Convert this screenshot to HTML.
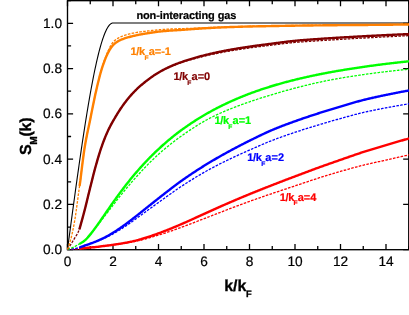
<!DOCTYPE html>
<html><head><meta charset="utf-8"><style>
html,body{margin:0;padding:0;background:#fff;}
svg{display:block;will-change:transform;opacity:0.999}
text{text-rendering:geometricPrecision}
text{font-family:"Liberation Sans",sans-serif;}
.tl{font-size:13.7px;fill:#000;stroke:#000;stroke-width:0.2px}
.lb{font-size:11px;font-weight:bold;letter-spacing:0px}
.sub{font-size:6.7px}
.ax{font-size:16px;font-weight:bold;fill:#000;stroke:#000;stroke-width:0.3px}
.asub{font-size:9.3px}
</style></head><body>
<svg width="409" height="315" viewBox="0 0 409 315">
<rect width="409" height="315" fill="#fff"/>
<rect x="67.5" y="0.66" width="341.25" height="249.04" fill="none" stroke="#000" stroke-width="1.35"/>
<path d="M67.50 249.7 v-5.6 M67.50 0.66 v5.6 M90.25 249.7 v-3.6 M90.25 0.66 v3.6 M113.00 249.7 v-5.6 M113.00 0.66 v5.6 M135.75 249.7 v-3.6 M135.75 0.66 v3.6 M158.50 249.7 v-5.6 M158.50 0.66 v5.6 M181.25 249.7 v-3.6 M181.25 0.66 v3.6 M204.00 249.7 v-5.6 M204.00 0.66 v5.6 M226.75 249.7 v-3.6 M226.75 0.66 v3.6 M249.50 249.7 v-5.6 M249.50 0.66 v5.6 M272.25 249.7 v-3.6 M272.25 0.66 v3.6 M295.00 249.7 v-5.6 M295.00 0.66 v5.6 M317.75 249.7 v-3.6 M317.75 0.66 v3.6 M340.50 249.7 v-5.6 M340.50 0.66 v5.6 M363.25 249.7 v-3.6 M363.25 0.66 v3.6 M386.00 249.7 v-5.6 M386.00 0.66 v5.6 M408.75 249.7 v-3.6 M408.75 0.66 v3.6 M67.5 249.70 h5.6 M408.75 249.70 h-5.6 M67.5 227.06 h3.6 M67.5 204.42 h5.6 M408.75 204.42 h-5.6 M67.5 181.78 h3.6 M67.5 159.14 h5.6 M408.75 159.14 h-5.6 M67.5 136.50 h3.6 M67.5 113.86 h5.6 M408.75 113.86 h-5.6 M67.5 91.22 h3.6 M67.5 68.58 h5.6 M408.75 68.58 h-5.6 M67.5 45.94 h3.6 M67.5 23.30 h5.6 M408.75 23.30 h-5.6 M67.5 0.66 h3.6" stroke="#000" stroke-width="1.3" fill="none"/>
<g stroke-linejoin="round">
<path d="M67.50 249.40 L68.08 245.10 L68.65 240.80 L69.23 236.51 L69.80 232.22 L70.38 227.94 L70.96 223.66 L71.53 219.39 L72.11 215.13 L72.68 210.88 L73.26 206.64 L73.84 202.42 L74.41 198.21 L74.99 194.02 L75.56 189.85 L76.14 185.69 L76.72 181.56 L77.29 177.45 L77.87 173.36 L78.44 169.30 L79.02 165.26 L79.59 161.25 L80.17 157.27 L80.75 153.32 L81.32 149.40 L81.90 145.52 L82.47 141.67 L83.05 137.85 L83.63 134.08 L84.20 130.34 L84.78 126.64 L85.35 122.98 L85.93 119.36 L86.51 115.79 L87.08 112.27 L87.66 108.79 L88.23 105.36 L88.81 101.98 L89.39 98.65 L89.96 95.37 L90.54 92.14 L91.11 88.98 L91.69 85.86 L92.27 82.81 L92.84 79.81 L93.42 76.88 L93.99 74.01 L94.57 71.20 L95.15 68.45 L95.72 65.77 L96.30 63.16 L96.87 60.62 L97.45 58.15 L98.03 55.75 L98.60 53.42 L99.18 51.17 L99.75 48.99 L100.33 46.89 L100.91 44.87 L101.48 42.93 L102.06 41.07 L102.63 39.29 L103.21 37.60 L103.78 35.99 L104.36 34.47 L104.94 33.04 L105.51 31.69 L106.09 30.44 L106.66 29.28 L107.24 28.21 L107.82 27.24 L108.39 26.36 L108.97 25.59 L109.54 24.91 L110.12 24.33 L110.70 23.86 L111.27 23.48 L111.85 23.22 L112.42 23.05 L113.00 23.00 L411.02 23.00" stroke="#000" stroke-width="1.1" fill="none"/>
<path d="M67.50 249.40 L68.12 249.39 L68.75 249.37 L69.37 249.35 L69.99 249.33 L70.61 249.30 L71.24 249.28 L71.86 249.24 L72.48 249.21 L73.10 249.17 L73.73 249.13 L74.35 249.09 L74.97 249.04 L75.59 249.00 L76.22 248.95 L76.84 248.90 L77.46 248.85 L78.08 248.80 L78.71 248.75 L79.33 248.70 L80.16 248.60 L80.99 248.49 L81.82 248.40 L82.66 248.30 L83.49 248.20 L84.32 248.11 L85.15 248.02 L85.98 247.94 L86.81 247.85 L87.64 247.77 L88.47 247.69 L89.31 247.61 L90.14 247.53 L90.97 247.46 L91.80 247.39 L92.63 247.32 L93.46 247.25 L94.29 247.18 L95.12 247.10 L95.96 247.02 L96.79 246.93 L97.62 246.82 L98.45 246.71 L99.28 246.59 L100.11 246.48 L100.94 246.36 L101.78 246.26 L102.61 246.16 L103.44 246.06 L104.27 245.96 L105.10 245.87 L105.93 245.77 L106.76 245.67 L107.59 245.56 L108.43 245.45 L109.26 245.34 L110.09 245.22 L110.92 245.11 L111.75 244.99 L112.58 244.87 L113.41 244.74 L114.25 244.62 L115.08 244.51 L115.91 244.39 L116.74 244.28 L117.57 244.16 L118.40 244.05 L119.23 243.94 L120.06 243.82 L120.90 243.71 L121.73 243.60 L122.56 243.48 L123.39 243.37 L124.22 243.25 L125.05 243.13 L125.88 243.01 L126.72 242.88 L127.55 242.76 L128.38 242.63 L129.21 242.50 L130.04 242.36 L130.87 242.23 L131.70 242.08 L132.53 241.94 L133.37 241.78 L134.20 241.63 L135.03 241.46 L135.86 241.29 L136.69 241.12 L137.52 240.93 L138.35 240.74 L139.18 240.54 L140.02 240.34 L140.85 240.13 L141.68 239.91 L142.51 239.70 L143.34 239.48 L144.17 239.25 L145.00 239.03 L145.84 238.81 L146.67 238.58 L147.50 238.36 L148.33 238.14 L149.16 237.91 L149.99 237.68 L150.82 237.44 L151.65 237.21 L152.49 236.97 L153.32 236.72 L154.15 236.48 L154.98 236.23 L155.81 235.98 L156.64 235.73 L157.47 235.48 L158.31 235.22 L159.14 234.96 L159.97 234.70 L160.80 234.44 L161.63 234.17 L162.46 233.90 L163.29 233.63 L164.12 233.35 L164.96 233.08 L165.79 232.80 L166.62 232.52 L167.45 232.24 L168.28 231.96 L169.11 231.68 L169.94 231.39 L170.77 231.11 L171.61 230.82 L172.44 230.53 L173.27 230.24 L174.10 229.95 L174.93 229.66 L175.76 229.36 L176.59 229.06 L177.43 228.76 L178.26 228.46 L179.09 228.16 L179.92 227.86 L180.75 227.55 L181.58 227.25 L182.41 226.94 L183.24 226.63 L184.08 226.32 L184.91 226.01 L185.74 225.70 L186.57 225.39 L187.40 225.08 L188.23 224.76 L189.06 224.44 L189.89 224.13 L190.73 223.81 L191.56 223.49 L192.39 223.17 L193.22 222.86 L194.05 222.54 L194.88 222.22 L195.71 221.90 L196.55 221.57 L197.38 221.25 L198.21 220.93 L199.04 220.61 L199.87 220.29 L200.70 219.97 L201.53 219.65 L202.36 219.33 L203.20 219.01 L204.03 218.69 L204.86 218.37 L205.69 218.05 L206.52 217.73 L207.35 217.41 L208.18 217.08 L209.02 216.76 L209.85 216.44 L210.68 216.11 L211.51 215.79 L212.34 215.47 L213.17 215.14 L214.00 214.82 L214.83 214.50 L215.67 214.17 L216.50 213.85 L217.33 213.52 L218.16 213.20 L218.99 212.88 L219.82 212.56 L220.65 212.23 L221.49 211.91 L222.32 211.59 L223.15 211.27 L223.98 210.95 L224.81 210.63 L225.64 210.32 L226.47 210.00 L227.30 209.68 L228.14 209.37 L228.97 209.05 L229.80 208.73 L230.63 208.42 L231.46 208.10 L232.29 207.79 L233.12 207.47 L233.95 207.16 L234.79 206.85 L235.62 206.53 L236.45 206.22 L237.28 205.91 L238.11 205.60 L238.94 205.29 L239.77 204.98 L240.61 204.67 L241.44 204.36 L242.27 204.05 L243.10 203.74 L243.93 203.43 L244.76 203.13 L245.59 202.82 L246.42 202.52 L247.26 202.22 L248.09 201.91 L248.92 201.61 L249.75 201.31 L250.58 201.01 L251.41 200.72 L252.24 200.42 L253.07 200.12 L253.91 199.83 L254.74 199.53 L255.57 199.24 L256.40 198.95 L257.23 198.66 L258.06 198.37 L258.89 198.07 L259.73 197.78 L260.56 197.50 L261.39 197.21 L262.22 196.92 L263.05 196.63 L263.88 196.34 L264.71 196.06 L265.54 195.77 L266.38 195.49 L267.21 195.20 L268.04 194.92 L268.87 194.63 L269.70 194.35 L270.53 194.06 L271.36 193.78 L272.20 193.50 L273.03 193.22 L273.86 192.93 L274.69 192.65 L275.52 192.37 L276.35 192.09 L277.18 191.81 L278.01 191.53 L278.85 191.26 L279.68 190.98 L280.51 190.70 L281.34 190.43 L282.17 190.15 L283.00 189.87 L283.83 189.60 L284.66 189.32 L285.50 189.05 L286.33 188.77 L287.16 188.50 L287.99 188.22 L288.82 187.95 L289.65 187.67 L290.48 187.40 L291.32 187.12 L292.15 186.84 L292.98 186.57 L293.81 186.29 L294.64 186.01 L295.47 185.74 L296.30 185.46 L297.13 185.18 L297.97 184.90 L298.80 184.62 L299.63 184.34 L300.46 184.06 L301.29 183.78 L302.12 183.50 L302.95 183.21 L303.79 182.93 L304.62 182.65 L305.45 182.37 L306.28 182.09 L307.11 181.81 L307.94 181.53 L308.77 181.25 L309.60 180.98 L310.44 180.70 L311.27 180.42 L312.10 180.15 L312.93 179.87 L313.76 179.60 L314.59 179.33 L315.42 179.06 L316.25 178.79 L317.09 178.52 L317.92 178.26 L318.75 177.99 L319.58 177.73 L320.41 177.47 L321.24 177.21 L322.07 176.95 L322.91 176.69 L323.74 176.43 L324.57 176.17 L325.40 175.91 L326.23 175.66 L327.06 175.40 L327.89 175.15 L328.72 174.90 L329.56 174.65 L330.39 174.40 L331.22 174.14 L332.05 173.90 L332.88 173.65 L333.71 173.40 L334.54 173.15 L335.38 172.91 L336.21 172.66 L337.04 172.42 L337.87 172.17 L338.70 171.93 L339.53 171.69 L340.36 171.44 L341.19 171.20 L342.03 170.96 L342.86 170.72 L343.69 170.48 L344.52 170.25 L345.35 170.01 L346.18 169.77 L347.01 169.53 L347.84 169.30 L348.68 169.06 L349.51 168.83 L350.34 168.60 L351.17 168.37 L352.00 168.14 L352.83 167.91 L353.66 167.68 L354.50 167.46 L355.33 167.23 L356.16 167.01 L356.99 166.79 L357.82 166.57 L358.65 166.35 L359.48 166.13 L360.31 165.92 L361.15 165.71 L361.98 165.50 L362.81 165.29 L363.64 165.08 L364.47 164.88 L365.30 164.68 L366.13 164.48 L366.97 164.29 L367.80 164.09 L368.63 163.90 L369.46 163.71 L370.29 163.53 L371.12 163.34 L371.95 163.16 L372.78 162.97 L373.62 162.79 L374.45 162.61 L375.28 162.43 L376.11 162.25 L376.94 162.07 L377.77 161.89 L378.60 161.71 L379.43 161.53 L380.27 161.35 L381.10 161.17 L381.93 160.99 L382.76 160.81 L383.59 160.62 L384.42 160.44 L385.25 160.25 L386.09 160.07 L386.92 159.88 L387.75 159.69 L388.58 159.50 L389.41 159.31 L390.24 159.12 L391.07 158.93 L391.90 158.75 L392.74 158.56 L393.57 158.37 L394.40 158.18 L395.23 157.99 L396.06 157.80 L396.89 157.61 L397.72 157.42 L398.56 157.23 L399.39 157.04 L400.22 156.85 L401.05 156.66 L401.88 156.48 L402.71 156.29 L403.54 156.10 L404.37 155.91 L405.21 155.72 L406.04 155.52 L406.87 155.33 L407.70 155.14 L408.53 154.95 L409.36 154.76 L410.19 154.57 L411.02 154.38" stroke="#ff0000" stroke-width="1.3" stroke-dasharray="2.6 1.3" fill="none"/>
<path d="M79.33 248.70 L80.16 248.60 L80.99 248.49 L81.82 248.40 L82.66 248.30 L83.49 248.20 L84.32 248.11 L85.15 248.02 L85.98 247.94 L86.81 247.85 L87.64 247.77 L88.47 247.69 L89.31 247.61 L90.14 247.53 L90.97 247.46 L91.80 247.39 L92.63 247.32 L93.46 247.25 L94.29 247.18 L95.12 247.10 L95.96 247.02 L96.79 246.93 L97.62 246.82 L98.45 246.71 L99.28 246.59 L100.11 246.48 L100.94 246.36 L101.78 246.26 L102.61 246.16 L103.44 246.06 L104.27 245.96 L105.10 245.87 L105.93 245.77 L106.76 245.67 L107.59 245.56 L108.43 245.45 L109.26 245.34 L110.09 245.22 L110.92 245.11 L111.75 244.99 L112.58 244.87 L113.41 244.74 L114.25 244.62 L115.08 244.50 L115.91 244.37 L116.74 244.25 L117.57 244.12 L118.40 243.99 L119.23 243.86 L120.06 243.73 L120.90 243.59 L121.73 243.45 L122.56 243.31 L123.39 243.17 L124.22 243.02 L125.05 242.87 L125.88 242.72 L126.72 242.56 L127.55 242.40 L128.38 242.24 L129.21 242.08 L130.04 241.91 L130.87 241.74 L131.70 241.56 L132.53 241.38 L133.37 241.20 L134.20 241.01 L135.03 240.81 L135.86 240.61 L136.69 240.40 L137.52 240.18 L138.35 239.96 L139.18 239.72 L140.02 239.48 L140.85 239.24 L141.68 238.98 L142.51 238.73 L143.34 238.47 L144.17 238.21 L145.00 237.94 L145.84 237.68 L146.67 237.41 L147.50 237.15 L148.33 236.88 L149.16 236.61 L149.99 236.33 L150.82 236.05 L151.65 235.77 L152.49 235.48 L153.32 235.20 L154.15 234.91 L154.98 234.61 L155.81 234.32 L156.64 234.02 L157.47 233.72 L158.31 233.42 L159.14 233.12 L159.97 232.81 L160.80 232.50 L161.63 232.19 L162.46 231.87 L163.29 231.55 L164.12 231.23 L164.96 230.91 L165.79 230.58 L166.62 230.25 L167.45 229.92 L168.28 229.59 L169.11 229.26 L169.94 228.93 L170.77 228.59 L171.61 228.26 L172.44 227.92 L173.27 227.58 L174.10 227.23 L174.93 226.89 L175.76 226.54 L176.59 226.19 L177.43 225.84 L178.26 225.49 L179.09 225.13 L179.92 224.77 L180.75 224.42 L181.58 224.06 L182.41 223.70 L183.24 223.33 L184.08 222.97 L184.91 222.60 L185.74 222.23 L186.57 221.86 L187.40 221.49 L188.23 221.11 L189.06 220.74 L189.89 220.36 L190.73 219.99 L191.56 219.61 L192.39 219.23 L193.22 218.85 L194.05 218.47 L194.88 218.09 L195.71 217.71 L196.55 217.33 L197.38 216.95 L198.21 216.57 L199.04 216.19 L199.87 215.81 L200.70 215.44 L201.53 215.06 L202.36 214.68 L203.20 214.31 L204.03 213.93 L204.86 213.56 L205.69 213.19 L206.52 212.81 L207.35 212.44 L208.18 212.06 L209.02 211.69 L209.85 211.31 L210.68 210.94 L211.51 210.56 L212.34 210.19 L213.17 209.81 L214.00 209.44 L214.83 209.07 L215.67 208.69 L216.50 208.32 L217.33 207.95 L218.16 207.57 L218.99 207.20 L219.82 206.83 L220.65 206.46 L221.49 206.09 L222.32 205.72 L223.15 205.36 L223.98 204.99 L224.81 204.63 L225.64 204.26 L226.47 203.90 L227.30 203.54 L228.14 203.18 L228.97 202.82 L229.80 202.46 L230.63 202.10 L231.46 201.74 L232.29 201.39 L233.12 201.03 L233.95 200.67 L234.79 200.32 L235.62 199.96 L236.45 199.61 L237.28 199.26 L238.11 198.91 L238.94 198.55 L239.77 198.20 L240.61 197.85 L241.44 197.50 L242.27 197.16 L243.10 196.81 L243.93 196.46 L244.76 196.12 L245.59 195.77 L246.42 195.43 L247.26 195.08 L248.09 194.74 L248.92 194.40 L249.75 194.06 L250.58 193.72 L251.41 193.38 L252.24 193.04 L253.07 192.70 L253.91 192.36 L254.74 192.03 L255.57 191.69 L256.40 191.36 L257.23 191.03 L258.06 190.69 L258.89 190.36 L259.73 190.03 L260.56 189.70 L261.39 189.37 L262.22 189.04 L263.05 188.71 L263.88 188.38 L264.71 188.06 L265.54 187.73 L266.38 187.40 L267.21 187.08 L268.04 186.75 L268.87 186.42 L269.70 186.10 L270.53 185.77 L271.36 185.45 L272.20 185.12 L273.03 184.80 L273.86 184.48 L274.69 184.15 L275.52 183.83 L276.35 183.51 L277.18 183.19 L278.01 182.86 L278.85 182.54 L279.68 182.22 L280.51 181.90 L281.34 181.58 L282.17 181.27 L283.00 180.95 L283.83 180.63 L284.66 180.31 L285.50 179.99 L286.33 179.68 L287.16 179.36 L287.99 179.04 L288.82 178.73 L289.65 178.41 L290.48 178.10 L291.32 177.78 L292.15 177.47 L292.98 177.15 L293.81 176.84 L294.64 176.52 L295.47 176.21 L296.30 175.89 L297.13 175.58 L297.97 175.26 L298.80 174.95 L299.63 174.64 L300.46 174.32 L301.29 174.01 L302.12 173.70 L302.95 173.38 L303.79 173.07 L304.62 172.76 L305.45 172.45 L306.28 172.13 L307.11 171.82 L307.94 171.51 L308.77 171.20 L309.60 170.89 L310.44 170.58 L311.27 170.27 L312.10 169.97 L312.93 169.66 L313.76 169.35 L314.59 169.05 L315.42 168.74 L316.25 168.44 L317.09 168.14 L317.92 167.84 L318.75 167.53 L319.58 167.23 L320.41 166.93 L321.24 166.64 L322.07 166.34 L322.91 166.04 L323.74 165.74 L324.57 165.45 L325.40 165.15 L326.23 164.86 L327.06 164.56 L327.89 164.27 L328.72 163.98 L329.56 163.68 L330.39 163.39 L331.22 163.10 L332.05 162.81 L332.88 162.52 L333.71 162.23 L334.54 161.94 L335.38 161.65 L336.21 161.35 L337.04 161.07 L337.87 160.78 L338.70 160.49 L339.53 160.20 L340.36 159.91 L341.19 159.62 L342.03 159.33 L342.86 159.04 L343.69 158.74 L344.52 158.45 L345.35 158.16 L346.18 157.87 L347.01 157.58 L347.84 157.29 L348.68 157.00 L349.51 156.70 L350.34 156.41 L351.17 156.12 L352.00 155.84 L352.83 155.55 L353.66 155.26 L354.50 154.97 L355.33 154.69 L356.16 154.40 L356.99 154.12 L357.82 153.84 L358.65 153.56 L359.48 153.28 L360.31 153.01 L361.15 152.73 L361.98 152.46 L362.81 152.19 L363.64 151.92 L364.47 151.66 L365.30 151.39 L366.13 151.13 L366.97 150.87 L367.80 150.61 L368.63 150.35 L369.46 150.09 L370.29 149.84 L371.12 149.58 L371.95 149.33 L372.78 149.08 L373.62 148.83 L374.45 148.58 L375.28 148.33 L376.11 148.08 L376.94 147.83 L377.77 147.58 L378.60 147.34 L379.43 147.09 L380.27 146.84 L381.10 146.60 L381.93 146.35 L382.76 146.10 L383.59 145.86 L384.42 145.61 L385.25 145.36 L386.09 145.12 L386.92 144.87 L387.75 144.62 L388.58 144.38 L389.41 144.13 L390.24 143.89 L391.07 143.64 L391.90 143.39 L392.74 143.15 L393.57 142.91 L394.40 142.66 L395.23 142.42 L396.06 142.17 L396.89 141.93 L397.72 141.69 L398.56 141.45 L399.39 141.20 L400.22 140.96 L401.05 140.72 L401.88 140.48 L402.71 140.24 L403.54 140.00 L404.37 139.76 L405.21 139.52 L406.04 139.28 L406.87 139.04 L407.70 138.80 L408.53 138.56 L409.36 138.33 L410.19 138.09 L411.02 137.85" stroke="#ff0000" stroke-width="2.4" fill="none"/>
<path d="M67.50 249.40 L68.12 249.39 L68.75 249.37 L69.37 249.34 L69.99 249.29 L70.61 249.23 L71.24 249.15 L71.86 249.07 L72.48 248.98 L73.10 248.88 L73.73 248.77 L74.35 248.66 L74.97 248.53 L75.59 248.41 L76.22 248.27 L76.84 248.14 L77.46 248.00 L78.08 247.86 L78.71 247.71 L79.33 247.57 L80.16 247.26 L80.99 246.95 L81.82 246.65 L82.66 246.35 L83.49 246.05 L84.32 245.75 L85.15 245.46 L85.98 245.17 L86.81 244.89 L87.64 244.61 L88.47 244.32 L89.31 244.03 L90.14 243.74 L90.97 243.43 L91.80 243.14 L92.63 242.84 L93.46 242.54 L94.29 242.24 L95.12 241.94 L95.96 241.63 L96.79 241.32 L97.62 241.01 L98.45 240.69 L99.28 240.36 L100.11 240.03 L100.94 239.70 L101.78 239.36 L102.61 239.01 L103.44 238.65 L104.27 238.29 L105.10 237.92 L105.93 237.54 L106.76 237.15 L107.59 236.76 L108.43 236.35 L109.26 235.94 L110.09 235.51 L110.92 235.08 L111.75 234.63 L112.58 234.17 L113.41 233.70 L114.25 233.22 L115.08 232.74 L115.91 232.25 L116.74 231.75 L117.57 231.24 L118.40 230.73 L119.23 230.21 L120.06 229.69 L120.90 229.16 L121.73 228.63 L122.56 228.10 L123.39 227.56 L124.22 227.01 L125.05 226.47 L125.88 225.91 L126.72 225.35 L127.55 224.78 L128.38 224.20 L129.21 223.62 L130.04 223.03 L130.87 222.44 L131.70 221.85 L132.53 221.25 L133.37 220.66 L134.20 220.06 L135.03 219.47 L135.86 218.87 L136.69 218.27 L137.52 217.68 L138.35 217.07 L139.18 216.47 L140.02 215.86 L140.85 215.26 L141.68 214.65 L142.51 214.04 L143.34 213.43 L144.17 212.83 L145.00 212.22 L145.84 211.62 L146.67 211.01 L147.50 210.41 L148.33 209.81 L149.16 209.21 L149.99 208.61 L150.82 208.01 L151.65 207.40 L152.49 206.80 L153.32 206.20 L154.15 205.60 L154.98 205.00 L155.81 204.40 L156.64 203.80 L157.47 203.20 L158.31 202.61 L159.14 202.01 L159.97 201.41 L160.80 200.81 L161.63 200.21 L162.46 199.61 L163.29 199.01 L164.12 198.42 L164.96 197.82 L165.79 197.22 L166.62 196.62 L167.45 196.03 L168.28 195.44 L169.11 194.85 L169.94 194.26 L170.77 193.67 L171.61 193.09 L172.44 192.50 L173.27 191.91 L174.10 191.32 L174.93 190.74 L175.76 190.16 L176.59 189.58 L177.43 189.01 L178.26 188.44 L179.09 187.87 L179.92 187.31 L180.75 186.76 L181.58 186.21 L182.41 185.67 L183.24 185.13 L184.08 184.59 L184.91 184.06 L185.74 183.52 L186.57 182.99 L187.40 182.47 L188.23 181.94 L189.06 181.42 L189.89 180.90 L190.73 180.38 L191.56 179.86 L192.39 179.35 L193.22 178.83 L194.05 178.32 L194.88 177.82 L195.71 177.31 L196.55 176.81 L197.38 176.31 L198.21 175.81 L199.04 175.31 L199.87 174.82 L200.70 174.33 L201.53 173.85 L202.36 173.36 L203.20 172.88 L204.03 172.41 L204.86 171.94 L205.69 171.47 L206.52 171.00 L207.35 170.54 L208.18 170.08 L209.02 169.63 L209.85 169.17 L210.68 168.72 L211.51 168.28 L212.34 167.83 L213.17 167.39 L214.00 166.95 L214.83 166.52 L215.67 166.08 L216.50 165.65 L217.33 165.23 L218.16 164.80 L218.99 164.38 L219.82 163.95 L220.65 163.54 L221.49 163.12 L222.32 162.70 L223.15 162.29 L223.98 161.88 L224.81 161.47 L225.64 161.06 L226.47 160.66 L227.30 160.25 L228.14 159.85 L228.97 159.45 L229.80 159.05 L230.63 158.66 L231.46 158.26 L232.29 157.87 L233.12 157.48 L233.95 157.09 L234.79 156.70 L235.62 156.31 L236.45 155.93 L237.28 155.54 L238.11 155.16 L238.94 154.78 L239.77 154.40 L240.61 154.03 L241.44 153.65 L242.27 153.28 L243.10 152.90 L243.93 152.53 L244.76 152.16 L245.59 151.79 L246.42 151.42 L247.26 151.05 L248.09 150.69 L248.92 150.32 L249.75 149.96 L250.58 149.59 L251.41 149.23 L252.24 148.86 L253.07 148.50 L253.91 148.13 L254.74 147.77 L255.57 147.40 L256.40 147.04 L257.23 146.67 L258.06 146.31 L258.89 145.95 L259.73 145.59 L260.56 145.23 L261.39 144.87 L262.22 144.51 L263.05 144.16 L263.88 143.81 L264.71 143.46 L265.54 143.11 L266.38 142.76 L267.21 142.42 L268.04 142.07 L268.87 141.74 L269.70 141.40 L270.53 141.07 L271.36 140.74 L272.20 140.41 L273.03 140.09 L273.86 139.77 L274.69 139.45 L275.52 139.13 L276.35 138.82 L277.18 138.51 L278.01 138.21 L278.85 137.90 L279.68 137.60 L280.51 137.30 L281.34 137.00 L282.17 136.71 L283.00 136.41 L283.83 136.12 L284.66 135.83 L285.50 135.54 L286.33 135.25 L287.16 134.96 L287.99 134.68 L288.82 134.40 L289.65 134.11 L290.48 133.83 L291.32 133.55 L292.15 133.27 L292.98 132.99 L293.81 132.71 L294.64 132.43 L295.47 132.15 L296.30 131.87 L297.13 131.60 L297.97 131.32 L298.80 131.05 L299.63 130.78 L300.46 130.51 L301.29 130.24 L302.12 129.97 L302.95 129.70 L303.79 129.43 L304.62 129.17 L305.45 128.91 L306.28 128.64 L307.11 128.38 L307.94 128.12 L308.77 127.86 L309.60 127.60 L310.44 127.34 L311.27 127.08 L312.10 126.83 L312.93 126.57 L313.76 126.32 L314.59 126.06 L315.42 125.81 L316.25 125.56 L317.09 125.30 L317.92 125.05 L318.75 124.80 L319.58 124.55 L320.41 124.30 L321.24 124.05 L322.07 123.81 L322.91 123.56 L323.74 123.31 L324.57 123.07 L325.40 122.83 L326.23 122.58 L327.06 122.34 L327.89 122.10 L328.72 121.86 L329.56 121.62 L330.39 121.38 L331.22 121.14 L332.05 120.91 L332.88 120.67 L333.71 120.43 L334.54 120.20 L335.38 119.97 L336.21 119.73 L337.04 119.50 L337.87 119.27 L338.70 119.04 L339.53 118.81 L340.36 118.58 L341.19 118.35 L342.03 118.12 L342.86 117.89 L343.69 117.66 L344.52 117.43 L345.35 117.20 L346.18 116.97 L347.01 116.73 L347.84 116.50 L348.68 116.28 L349.51 116.05 L350.34 115.82 L351.17 115.59 L352.00 115.37 L352.83 115.14 L353.66 114.92 L354.50 114.70 L355.33 114.48 L356.16 114.26 L356.99 114.05 L357.82 113.83 L358.65 113.62 L359.48 113.42 L360.31 113.21 L361.15 113.01 L361.98 112.81 L362.81 112.61 L363.64 112.42 L364.47 112.23 L365.30 112.04 L366.13 111.85 L366.97 111.67 L367.80 111.49 L368.63 111.31 L369.46 111.13 L370.29 110.95 L371.12 110.77 L371.95 110.60 L372.78 110.43 L373.62 110.26 L374.45 110.09 L375.28 109.92 L376.11 109.75 L376.94 109.58 L377.77 109.42 L378.60 109.25 L379.43 109.09 L380.27 108.93 L381.10 108.77 L381.93 108.61 L382.76 108.45 L383.59 108.29 L384.42 108.13 L385.25 107.97 L386.09 107.82 L386.92 107.66 L387.75 107.51 L388.58 107.35 L389.41 107.20 L390.24 107.04 L391.07 106.89 L391.90 106.74 L392.74 106.59 L393.57 106.44 L394.40 106.29 L395.23 106.14 L396.06 105.99 L396.89 105.85 L397.72 105.70 L398.56 105.55 L399.39 105.41 L400.22 105.27 L401.05 105.12 L401.88 104.98 L402.71 104.84 L403.54 104.70 L404.37 104.56 L405.21 104.42 L406.04 104.29 L406.87 104.15 L407.70 104.02 L408.53 103.88 L409.36 103.75 L410.19 103.62 L411.02 103.49" stroke="#0000ff" stroke-width="1.3" stroke-dasharray="2.6 1.3" fill="none"/>
<path d="M79.33 247.57 L80.16 247.26 L80.99 246.95 L81.82 246.65 L82.66 246.35 L83.49 246.05 L84.32 245.75 L85.15 245.46 L85.98 245.17 L86.81 244.89 L87.64 244.61 L88.47 244.32 L89.31 244.03 L90.14 243.74 L90.97 243.43 L91.80 243.13 L92.63 242.82 L93.46 242.50 L94.29 242.18 L95.12 241.85 L95.96 241.51 L96.79 241.17 L97.62 240.82 L98.45 240.46 L99.28 240.09 L100.11 239.71 L100.94 239.33 L101.78 238.94 L102.61 238.54 L103.44 238.13 L104.27 237.71 L105.10 237.28 L105.93 236.85 L106.76 236.41 L107.59 235.96 L108.43 235.50 L109.26 235.03 L110.09 234.55 L110.92 234.06 L111.75 233.57 L112.58 233.06 L113.41 232.55 L114.25 232.02 L115.08 231.49 L115.91 230.95 L116.74 230.41 L117.57 229.86 L118.40 229.30 L119.23 228.73 L120.06 228.16 L120.90 227.59 L121.73 227.01 L122.56 226.42 L123.39 225.83 L124.22 225.24 L125.05 224.64 L125.88 224.04 L126.72 223.42 L127.55 222.80 L128.38 222.17 L129.21 221.54 L130.04 220.90 L130.87 220.26 L131.70 219.61 L132.53 218.97 L133.37 218.32 L134.20 217.67 L135.03 217.02 L135.86 216.37 L136.69 215.72 L137.52 215.07 L138.35 214.41 L139.18 213.75 L140.02 213.09 L140.85 212.43 L141.68 211.76 L142.51 211.09 L143.34 210.43 L144.17 209.76 L145.00 209.10 L145.84 208.43 L146.67 207.77 L147.50 207.11 L148.33 206.44 L149.16 205.78 L149.99 205.12 L150.82 204.46 L151.65 203.80 L152.49 203.13 L153.32 202.47 L154.15 201.81 L154.98 201.15 L155.81 200.49 L156.64 199.84 L157.47 199.18 L158.31 198.52 L159.14 197.87 L159.97 197.21 L160.80 196.56 L161.63 195.91 L162.46 195.25 L163.29 194.60 L164.12 193.95 L164.96 193.30 L165.79 192.65 L166.62 192.00 L167.45 191.36 L168.28 190.72 L169.11 190.08 L169.94 189.44 L170.77 188.81 L171.61 188.17 L172.44 187.54 L173.27 186.90 L174.10 186.27 L174.93 185.64 L175.76 185.01 L176.59 184.38 L177.43 183.76 L178.26 183.15 L179.09 182.54 L179.92 181.93 L180.75 181.34 L181.58 180.75 L182.41 180.16 L183.24 179.58 L184.08 178.99 L184.91 178.42 L185.74 177.84 L186.57 177.27 L187.40 176.70 L188.23 176.13 L189.06 175.56 L189.89 175.00 L190.73 174.44 L191.56 173.88 L192.39 173.33 L193.22 172.77 L194.05 172.23 L194.88 171.68 L195.71 171.13 L196.55 170.59 L197.38 170.05 L198.21 169.52 L199.04 168.99 L199.87 168.45 L200.70 167.93 L201.53 167.40 L202.36 166.88 L203.20 166.36 L204.03 165.84 L204.86 165.33 L205.69 164.82 L206.52 164.31 L207.35 163.80 L208.18 163.30 L209.02 162.79 L209.85 162.30 L210.68 161.80 L211.51 161.30 L212.34 160.81 L213.17 160.32 L214.00 159.84 L214.83 159.35 L215.67 158.87 L216.50 158.39 L217.33 157.91 L218.16 157.43 L218.99 156.96 L219.82 156.49 L220.65 156.01 L221.49 155.55 L222.32 155.08 L223.15 154.61 L223.98 154.15 L224.81 153.69 L225.64 153.23 L226.47 152.77 L227.30 152.31 L228.14 151.85 L228.97 151.40 L229.80 150.95 L230.63 150.50 L231.46 150.05 L232.29 149.60 L233.12 149.16 L233.95 148.71 L234.79 148.27 L235.62 147.83 L236.45 147.39 L237.28 146.96 L238.11 146.52 L238.94 146.09 L239.77 145.66 L240.61 145.23 L241.44 144.80 L242.27 144.37 L243.10 143.95 L243.93 143.53 L244.76 143.10 L245.59 142.68 L246.42 142.26 L247.26 141.85 L248.09 141.43 L248.92 141.02 L249.75 140.60 L250.58 140.19 L251.41 139.78 L252.24 139.37 L253.07 138.95 L253.91 138.54 L254.74 138.13 L255.57 137.72 L256.40 137.31 L257.23 136.91 L258.06 136.50 L258.89 136.10 L259.73 135.70 L260.56 135.30 L261.39 134.90 L262.22 134.50 L263.05 134.11 L263.88 133.72 L264.71 133.33 L265.54 132.95 L266.38 132.56 L267.21 132.19 L268.04 131.81 L268.87 131.44 L269.70 131.07 L270.53 130.71 L271.36 130.35 L272.20 130.00 L273.03 129.65 L273.86 129.30 L274.69 128.96 L275.52 128.62 L276.35 128.28 L277.18 127.94 L278.01 127.61 L278.85 127.28 L279.68 126.95 L280.51 126.63 L281.34 126.31 L282.17 125.99 L283.00 125.67 L283.83 125.36 L284.66 125.04 L285.50 124.73 L286.33 124.42 L287.16 124.11 L287.99 123.80 L288.82 123.50 L289.65 123.19 L290.48 122.89 L291.32 122.59 L292.15 122.29 L292.98 121.99 L293.81 121.69 L294.64 121.39 L295.47 121.09 L296.30 120.79 L297.13 120.50 L297.97 120.20 L298.80 119.91 L299.63 119.62 L300.46 119.33 L301.29 119.04 L302.12 118.75 L302.95 118.47 L303.79 118.18 L304.62 117.90 L305.45 117.62 L306.28 117.34 L307.11 117.06 L307.94 116.78 L308.77 116.50 L309.60 116.22 L310.44 115.95 L311.27 115.67 L312.10 115.40 L312.93 115.13 L313.76 114.86 L314.59 114.58 L315.42 114.31 L316.25 114.04 L317.09 113.77 L317.92 113.51 L318.75 113.24 L319.58 112.97 L320.41 112.71 L321.24 112.44 L322.07 112.18 L322.91 111.91 L323.74 111.65 L324.57 111.39 L325.40 111.13 L326.23 110.87 L327.06 110.61 L327.89 110.36 L328.72 110.10 L329.56 109.84 L330.39 109.59 L331.22 109.33 L332.05 109.08 L332.88 108.83 L333.71 108.58 L334.54 108.32 L335.38 108.07 L336.21 107.82 L337.04 107.57 L337.87 107.32 L338.70 107.08 L339.53 106.83 L340.36 106.58 L341.19 106.34 L342.03 106.09 L342.86 105.84 L343.69 105.59 L344.52 105.34 L345.35 105.10 L346.18 104.85 L347.01 104.60 L347.84 104.35 L348.68 104.11 L349.51 103.86 L350.34 103.61 L351.17 103.37 L352.00 103.13 L352.83 102.89 L353.66 102.65 L354.50 102.41 L355.33 102.17 L356.16 101.94 L356.99 101.71 L357.82 101.48 L358.65 101.25 L359.48 101.02 L360.31 100.80 L361.15 100.58 L361.98 100.37 L362.81 100.16 L363.64 99.95 L364.47 99.74 L365.30 99.53 L366.13 99.33 L366.97 99.13 L367.80 98.93 L368.63 98.73 L369.46 98.54 L370.29 98.34 L371.12 98.15 L371.95 97.96 L372.78 97.77 L373.62 97.59 L374.45 97.40 L375.28 97.21 L376.11 97.03 L376.94 96.85 L377.77 96.67 L378.60 96.49 L379.43 96.31 L380.27 96.13 L381.10 95.95 L381.93 95.78 L382.76 95.60 L383.59 95.43 L384.42 95.26 L385.25 95.08 L386.09 94.91 L386.92 94.74 L387.75 94.57 L388.58 94.40 L389.41 94.23 L390.24 94.06 L391.07 93.89 L391.90 93.72 L392.74 93.56 L393.57 93.39 L394.40 93.23 L395.23 93.06 L396.06 92.90 L396.89 92.74 L397.72 92.58 L398.56 92.42 L399.39 92.26 L400.22 92.10 L401.05 91.94 L401.88 91.78 L402.71 91.63 L403.54 91.47 L404.37 91.32 L405.21 91.17 L406.04 91.02 L406.87 90.87 L407.70 90.72 L408.53 90.57 L409.36 90.42 L410.19 90.27 L411.02 90.13" stroke="#0000ff" stroke-width="2.4" fill="none"/>
<path d="M67.50 249.40 L68.12 249.23 L68.75 249.05 L69.37 248.85 L69.99 248.64 L70.61 248.41 L71.24 248.17 L71.86 247.93 L72.48 247.67 L73.10 247.40 L73.73 247.11 L74.35 246.80 L74.97 246.46 L75.59 246.11 L76.22 245.74 L76.84 245.36 L77.46 244.98 L78.08 244.60 L78.71 244.22 L79.33 243.85 L80.16 243.49 L80.99 243.05 L81.82 242.56 L82.66 242.02 L83.49 241.43 L84.32 240.81 L85.15 240.13 L85.98 239.35 L86.81 238.50 L87.64 237.58 L88.47 236.61 L89.31 235.63 L90.14 234.64 L90.97 233.64 L91.80 232.62 L92.63 231.57 L93.46 230.51 L94.29 229.45 L95.12 228.39 L95.96 227.33 L96.79 226.28 L97.62 225.21 L98.45 224.14 L99.28 223.06 L100.11 221.99 L100.94 220.91 L101.78 219.84 L102.61 218.77 L103.44 217.70 L104.27 216.62 L105.10 215.54 L105.93 214.46 L106.76 213.38 L107.59 212.31 L108.43 211.23 L109.26 210.14 L110.09 209.05 L110.92 207.96 L111.75 206.86 L112.58 205.78 L113.41 204.69 L114.25 203.61 L115.08 202.53 L115.91 201.45 L116.74 200.38 L117.57 199.31 L118.40 198.25 L119.23 197.20 L120.06 196.15 L120.90 195.10 L121.73 194.07 L122.56 193.04 L123.39 192.02 L124.22 191.01 L125.05 190.00 L125.88 189.00 L126.72 188.01 L127.55 187.02 L128.38 186.03 L129.21 185.05 L130.04 184.07 L130.87 183.10 L131.70 182.14 L132.53 181.18 L133.37 180.22 L134.20 179.28 L135.03 178.33 L135.86 177.39 L136.69 176.46 L137.52 175.54 L138.35 174.62 L139.18 173.70 L140.02 172.79 L140.85 171.89 L141.68 170.99 L142.51 170.10 L143.34 169.22 L144.17 168.34 L145.00 167.47 L145.84 166.61 L146.67 165.75 L147.50 164.91 L148.33 164.07 L149.16 163.23 L149.99 162.40 L150.82 161.58 L151.65 160.77 L152.49 159.96 L153.32 159.16 L154.15 158.36 L154.98 157.58 L155.81 156.80 L156.64 156.03 L157.47 155.27 L158.31 154.51 L159.14 153.76 L159.97 153.02 L160.80 152.29 L161.63 151.56 L162.46 150.84 L163.29 150.13 L164.12 149.42 L164.96 148.72 L165.79 148.03 L166.62 147.34 L167.45 146.66 L168.28 145.99 L169.11 145.32 L169.94 144.66 L170.77 144.00 L171.61 143.34 L172.44 142.69 L173.27 142.04 L174.10 141.40 L174.93 140.77 L175.76 140.13 L176.59 139.51 L177.43 138.89 L178.26 138.27 L179.09 137.66 L179.92 137.06 L180.75 136.46 L181.58 135.88 L182.41 135.29 L183.24 134.71 L184.08 134.13 L184.91 133.55 L185.74 132.98 L186.57 132.40 L187.40 131.84 L188.23 131.27 L189.06 130.71 L189.89 130.15 L190.73 129.60 L191.56 129.05 L192.39 128.50 L193.22 127.96 L194.05 127.42 L194.88 126.89 L195.71 126.36 L196.55 125.84 L197.38 125.32 L198.21 124.80 L199.04 124.30 L199.87 123.79 L200.70 123.29 L201.53 122.80 L202.36 122.31 L203.20 121.83 L204.03 121.36 L204.86 120.89 L205.69 120.42 L206.52 119.96 L207.35 119.51 L208.18 119.06 L209.02 118.62 L209.85 118.19 L210.68 117.76 L211.51 117.33 L212.34 116.91 L213.17 116.50 L214.00 116.09 L214.83 115.68 L215.67 115.28 L216.50 114.89 L217.33 114.50 L218.16 114.11 L218.99 113.73 L219.82 113.35 L220.65 112.98 L221.49 112.61 L222.32 112.25 L223.15 111.89 L223.98 111.53 L224.81 111.18 L225.64 110.83 L226.47 110.49 L227.30 110.14 L228.14 109.81 L228.97 109.47 L229.80 109.14 L230.63 108.81 L231.46 108.48 L232.29 108.15 L233.12 107.83 L233.95 107.51 L234.79 107.19 L235.62 106.88 L236.45 106.56 L237.28 106.25 L238.11 105.94 L238.94 105.64 L239.77 105.33 L240.61 105.03 L241.44 104.72 L242.27 104.42 L243.10 104.12 L243.93 103.82 L244.76 103.53 L245.59 103.23 L246.42 102.94 L247.26 102.64 L248.09 102.35 L248.92 102.06 L249.75 101.77 L250.58 101.48 L251.41 101.19 L252.24 100.91 L253.07 100.63 L253.91 100.35 L254.74 100.07 L255.57 99.80 L256.40 99.53 L257.23 99.25 L258.06 98.99 L258.89 98.72 L259.73 98.45 L260.56 98.19 L261.39 97.93 L262.22 97.67 L263.05 97.41 L263.88 97.15 L264.71 96.89 L265.54 96.63 L266.38 96.38 L267.21 96.12 L268.04 95.87 L268.87 95.61 L269.70 95.36 L270.53 95.11 L271.36 94.86 L272.20 94.60 L273.03 94.35 L273.86 94.10 L274.69 93.85 L275.52 93.61 L276.35 93.36 L277.18 93.11 L278.01 92.87 L278.85 92.62 L279.68 92.38 L280.51 92.14 L281.34 91.90 L282.17 91.66 L283.00 91.42 L283.83 91.19 L284.66 90.95 L285.50 90.72 L286.33 90.48 L287.16 90.25 L287.99 90.02 L288.82 89.79 L289.65 89.56 L290.48 89.34 L291.32 89.11 L292.15 88.89 L292.98 88.66 L293.81 88.44 L294.64 88.22 L295.47 88.00 L296.30 87.78 L297.13 87.57 L297.97 87.35 L298.80 87.14 L299.63 86.92 L300.46 86.71 L301.29 86.50 L302.12 86.29 L302.95 86.08 L303.79 85.87 L304.62 85.67 L305.45 85.46 L306.28 85.26 L307.11 85.06 L307.94 84.86 L308.77 84.66 L309.60 84.46 L310.44 84.26 L311.27 84.07 L312.10 83.88 L312.93 83.68 L313.76 83.49 L314.59 83.30 L315.42 83.12 L316.25 82.93 L317.09 82.74 L317.92 82.56 L318.75 82.38 L319.58 82.20 L320.41 82.02 L321.24 81.84 L322.07 81.66 L322.91 81.49 L323.74 81.32 L324.57 81.14 L325.40 80.97 L326.23 80.80 L327.06 80.64 L327.89 80.47 L328.72 80.31 L329.56 80.15 L330.39 79.98 L331.22 79.82 L332.05 79.67 L332.88 79.51 L333.71 79.36 L334.54 79.20 L335.38 79.05 L336.21 78.90 L337.04 78.75 L337.87 78.61 L338.70 78.46 L339.53 78.32 L340.36 78.17 L341.19 78.03 L342.03 77.89 L342.86 77.75 L343.69 77.62 L344.52 77.48 L345.35 77.34 L346.18 77.21 L347.01 77.07 L347.84 76.94 L348.68 76.81 L349.51 76.67 L350.34 76.54 L351.17 76.41 L352.00 76.28 L352.83 76.15 L353.66 76.02 L354.50 75.90 L355.33 75.77 L356.16 75.64 L356.99 75.52 L357.82 75.39 L358.65 75.27 L359.48 75.15 L360.31 75.03 L361.15 74.91 L361.98 74.79 L362.81 74.67 L363.64 74.55 L364.47 74.43 L365.30 74.31 L366.13 74.20 L366.97 74.08 L367.80 73.97 L368.63 73.85 L369.46 73.74 L370.29 73.63 L371.12 73.52 L371.95 73.41 L372.78 73.30 L373.62 73.19 L374.45 73.08 L375.28 72.97 L376.11 72.86 L376.94 72.76 L377.77 72.65 L378.60 72.55 L379.43 72.44 L380.27 72.34 L381.10 72.24 L381.93 72.13 L382.76 72.03 L383.59 71.93 L384.42 71.83 L385.25 71.73 L386.09 71.64 L386.92 71.54 L387.75 71.44 L388.58 71.35 L389.41 71.25 L390.24 71.16 L391.07 71.06 L391.90 70.97 L392.74 70.87 L393.57 70.78 L394.40 70.69 L395.23 70.60 L396.06 70.51 L396.89 70.42 L397.72 70.33 L398.56 70.24 L399.39 70.15 L400.22 70.07 L401.05 69.98 L401.88 69.89 L402.71 69.81 L403.54 69.73 L404.37 69.64 L405.21 69.56 L406.04 69.48 L406.87 69.40 L407.70 69.32 L408.53 69.24 L409.36 69.16 L410.19 69.08 L411.02 69.00" stroke="#00ff00" stroke-width="1.3" stroke-dasharray="2.6 1.3" fill="none"/>
<path d="M79.33 243.85 L80.16 243.49 L80.99 243.05 L81.82 242.56 L82.66 242.02 L83.49 241.43 L84.32 240.81 L85.15 240.13 L85.98 239.35 L86.81 238.50 L87.64 237.58 L88.47 236.61 L89.31 235.63 L90.14 234.64 L90.97 233.64 L91.80 232.59 L92.63 231.51 L93.46 230.40 L94.29 229.28 L95.12 228.14 L95.96 227.01 L96.79 225.86 L97.62 224.69 L98.45 223.51 L99.28 222.32 L100.11 221.13 L100.94 219.93 L101.78 218.73 L102.61 217.53 L103.44 216.33 L104.27 215.11 L105.10 213.90 L105.93 212.69 L106.76 211.48 L107.59 210.28 L108.43 209.07 L109.26 207.87 L110.09 206.67 L110.92 205.47 L111.75 204.28 L112.58 203.10 L113.41 201.93 L114.25 200.77 L115.08 199.61 L115.91 198.46 L116.74 197.31 L117.57 196.16 L118.40 195.02 L119.23 193.89 L120.06 192.76 L120.90 191.64 L121.73 190.53 L122.56 189.43 L123.39 188.33 L124.22 187.25 L125.05 186.17 L125.88 185.11 L126.72 184.04 L127.55 182.99 L128.38 181.94 L129.21 180.90 L130.04 179.87 L130.87 178.84 L131.70 177.82 L132.53 176.82 L133.37 175.81 L134.20 174.82 L135.03 173.84 L135.86 172.86 L136.69 171.89 L137.52 170.93 L138.35 169.98 L139.18 169.04 L140.02 168.10 L140.85 167.17 L141.68 166.24 L142.51 165.33 L143.34 164.42 L144.17 163.52 L145.00 162.62 L145.84 161.74 L146.67 160.86 L147.50 159.99 L148.33 159.13 L149.16 158.27 L149.99 157.42 L150.82 156.58 L151.65 155.74 L152.49 154.91 L153.32 154.09 L154.15 153.28 L154.98 152.47 L155.81 151.67 L156.64 150.88 L157.47 150.09 L158.31 149.31 L159.14 148.54 L159.97 147.77 L160.80 147.01 L161.63 146.26 L162.46 145.51 L163.29 144.77 L164.12 144.03 L164.96 143.30 L165.79 142.58 L166.62 141.87 L167.45 141.16 L168.28 140.45 L169.11 139.75 L169.94 139.06 L170.77 138.38 L171.61 137.70 L172.44 137.02 L173.27 136.35 L174.10 135.68 L174.93 135.02 L175.76 134.36 L176.59 133.71 L177.43 133.07 L178.26 132.44 L179.09 131.81 L179.92 131.19 L180.75 130.59 L181.58 129.98 L182.41 129.39 L183.24 128.79 L184.08 128.20 L184.91 127.62 L185.74 127.03 L186.57 126.45 L187.40 125.88 L188.23 125.31 L189.06 124.74 L189.89 124.17 L190.73 123.61 L191.56 123.06 L192.39 122.51 L193.22 121.96 L194.05 121.41 L194.88 120.87 L195.71 120.34 L196.55 119.81 L197.38 119.28 L198.21 118.76 L199.04 118.24 L199.87 117.73 L200.70 117.22 L201.53 116.72 L202.36 116.22 L203.20 115.73 L204.03 115.24 L204.86 114.76 L205.69 114.28 L206.52 113.80 L207.35 113.33 L208.18 112.86 L209.02 112.39 L209.85 111.93 L210.68 111.47 L211.51 111.02 L212.34 110.57 L213.17 110.12 L214.00 109.68 L214.83 109.24 L215.67 108.80 L216.50 108.36 L217.33 107.93 L218.16 107.51 L218.99 107.09 L219.82 106.67 L220.65 106.25 L221.49 105.84 L222.32 105.43 L223.15 105.02 L223.98 104.62 L224.81 104.22 L225.64 103.83 L226.47 103.43 L227.30 103.05 L228.14 102.66 L228.97 102.28 L229.80 101.90 L230.63 101.52 L231.46 101.14 L232.29 100.77 L233.12 100.40 L233.95 100.04 L234.79 99.67 L235.62 99.31 L236.45 98.96 L237.28 98.60 L238.11 98.25 L238.94 97.90 L239.77 97.55 L240.61 97.21 L241.44 96.87 L242.27 96.53 L243.10 96.19 L243.93 95.86 L244.76 95.53 L245.59 95.20 L246.42 94.88 L247.26 94.56 L248.09 94.24 L248.92 93.92 L249.75 93.61 L250.58 93.30 L251.41 92.99 L252.24 92.68 L253.07 92.38 L253.91 92.08 L254.74 91.78 L255.57 91.48 L256.40 91.19 L257.23 90.89 L258.06 90.60 L258.89 90.31 L259.73 90.03 L260.56 89.74 L261.39 89.46 L262.22 89.18 L263.05 88.91 L263.88 88.63 L264.71 88.36 L265.54 88.09 L266.38 87.82 L267.21 87.55 L268.04 87.29 L268.87 87.03 L269.70 86.77 L270.53 86.51 L271.36 86.25 L272.20 86.00 L273.03 85.75 L273.86 85.50 L274.69 85.25 L275.52 85.01 L276.35 84.76 L277.18 84.52 L278.01 84.28 L278.85 84.04 L279.68 83.81 L280.51 83.57 L281.34 83.34 L282.17 83.11 L283.00 82.88 L283.83 82.65 L284.66 82.43 L285.50 82.20 L286.33 81.98 L287.16 81.76 L287.99 81.54 L288.82 81.32 L289.65 81.11 L290.48 80.89 L291.32 80.68 L292.15 80.47 L292.98 80.26 L293.81 80.05 L294.64 79.85 L295.47 79.64 L296.30 79.44 L297.13 79.24 L297.97 79.04 L298.80 78.84 L299.63 78.64 L300.46 78.44 L301.29 78.25 L302.12 78.06 L302.95 77.86 L303.79 77.67 L304.62 77.48 L305.45 77.30 L306.28 77.11 L307.11 76.92 L307.94 76.74 L308.77 76.56 L309.60 76.38 L310.44 76.19 L311.27 76.02 L312.10 75.84 L312.93 75.66 L313.76 75.49 L314.59 75.31 L315.42 75.14 L316.25 74.97 L317.09 74.80 L317.92 74.63 L318.75 74.46 L319.58 74.30 L320.41 74.13 L321.24 73.97 L322.07 73.80 L322.91 73.64 L323.74 73.48 L324.57 73.32 L325.40 73.16 L326.23 73.01 L327.06 72.85 L327.89 72.69 L328.72 72.54 L329.56 72.39 L330.39 72.23 L331.22 72.08 L332.05 71.93 L332.88 71.78 L333.71 71.63 L334.54 71.48 L335.38 71.34 L336.21 71.19 L337.04 71.05 L337.87 70.90 L338.70 70.76 L339.53 70.62 L340.36 70.48 L341.19 70.34 L342.03 70.20 L342.86 70.06 L343.69 69.92 L344.52 69.78 L345.35 69.65 L346.18 69.51 L347.01 69.37 L347.84 69.24 L348.68 69.11 L349.51 68.97 L350.34 68.84 L351.17 68.71 L352.00 68.58 L352.83 68.45 L353.66 68.32 L354.50 68.20 L355.33 68.07 L356.16 67.94 L356.99 67.82 L357.82 67.69 L358.65 67.57 L359.48 67.45 L360.31 67.32 L361.15 67.20 L361.98 67.08 L362.81 66.96 L363.64 66.84 L364.47 66.72 L365.30 66.61 L366.13 66.49 L366.97 66.37 L367.80 66.26 L368.63 66.14 L369.46 66.03 L370.29 65.91 L371.12 65.80 L371.95 65.69 L372.78 65.58 L373.62 65.47 L374.45 65.36 L375.28 65.25 L376.11 65.14 L376.94 65.03 L377.77 64.92 L378.60 64.81 L379.43 64.71 L380.27 64.60 L381.10 64.50 L381.93 64.39 L382.76 64.29 L383.59 64.18 L384.42 64.08 L385.25 63.98 L386.09 63.88 L386.92 63.78 L387.75 63.68 L388.58 63.58 L389.41 63.48 L390.24 63.38 L391.07 63.28 L391.90 63.18 L392.74 63.08 L393.57 62.99 L394.40 62.89 L395.23 62.80 L396.06 62.70 L396.89 62.60 L397.72 62.51 L398.56 62.42 L399.39 62.32 L400.22 62.23 L401.05 62.14 L401.88 62.05 L402.71 61.96 L403.54 61.87 L404.37 61.78 L405.21 61.69 L406.04 61.60 L406.87 61.51 L407.70 61.42 L408.53 61.34 L409.36 61.25 L410.19 61.17 L411.02 61.08" stroke="#00ff00" stroke-width="2.4" fill="none"/>
<path d="M67.50 249.40 L68.12 248.50 L68.75 247.58 L69.37 246.65 L69.99 245.70 L70.61 244.73 L71.24 243.75 L71.86 242.75 L72.48 241.74 L73.10 240.71 L73.73 239.69 L74.35 238.69 L74.97 237.71 L75.59 236.72 L76.22 235.70 L76.84 234.63 L77.46 233.49 L78.08 232.27 L78.71 230.94 L79.33 229.48 L80.16 226.60 L80.99 223.66 L81.82 220.68 L82.66 217.63 L83.49 214.54 L84.32 211.39 L85.15 208.18 L85.98 204.86 L86.81 201.46 L87.64 198.03 L88.47 194.59 L89.31 191.17 L90.14 187.82 L90.97 184.50 L91.80 181.18 L92.63 177.86 L93.46 174.58 L94.29 171.36 L95.12 168.24 L95.96 165.23 L96.79 162.30 L97.62 159.43 L98.45 156.62 L99.28 153.89 L100.11 151.25 L100.94 148.72 L101.78 146.30 L102.61 143.97 L103.44 141.71 L104.27 139.53 L105.10 137.43 L105.93 135.41 L106.76 133.47 L107.59 131.62 L108.43 129.85 L109.26 128.14 L110.09 126.50 L110.92 124.91 L111.75 123.38 L112.58 121.88 L113.41 120.42 L114.25 118.98 L115.08 117.56 L115.91 116.16 L116.74 114.78 L117.57 113.43 L118.40 112.10 L119.23 110.80 L120.06 109.53 L120.90 108.28 L121.73 107.06 L122.56 105.87 L123.39 104.71 L124.22 103.58 L125.05 102.48 L125.88 101.40 L126.72 100.34 L127.55 99.30 L128.38 98.28 L129.21 97.29 L130.04 96.31 L130.87 95.35 L131.70 94.42 L132.53 93.51 L133.37 92.61 L134.20 91.74 L135.03 90.89 L135.86 90.06 L136.69 89.26 L137.52 88.47 L138.35 87.69 L139.18 86.94 L140.02 86.20 L140.85 85.47 L141.68 84.76 L142.51 84.06 L143.34 83.38 L144.17 82.70 L145.00 82.04 L145.84 81.39 L146.67 80.74 L147.50 80.11 L148.33 79.48 L149.16 78.86 L149.99 78.25 L150.82 77.65 L151.65 77.05 L152.49 76.47 L153.32 75.89 L154.15 75.33 L154.98 74.78 L155.81 74.24 L156.64 73.71 L157.47 73.20 L158.31 72.70 L159.14 72.21 L159.97 71.73 L160.80 71.27 L161.63 70.82 L162.46 70.37 L163.29 69.94 L164.12 69.52 L164.96 69.11 L165.79 68.71 L166.62 68.31 L167.45 67.93 L168.28 67.56 L169.11 67.19 L169.94 66.84 L170.77 66.49 L171.61 66.14 L172.44 65.81 L173.27 65.48 L174.10 65.16 L174.93 64.84 L175.76 64.53 L176.59 64.22 L177.43 63.92 L178.26 63.63 L179.09 63.34 L179.92 63.06 L180.75 62.78 L181.58 62.51 L182.41 62.24 L183.24 61.98 L184.08 61.72 L184.91 61.46 L185.74 61.20 L186.57 60.95 L187.40 60.70 L188.23 60.45 L189.06 60.21 L189.89 59.97 L190.73 59.73 L191.56 59.50 L192.39 59.27 L193.22 59.04 L194.05 58.81 L194.88 58.59 L195.71 58.37 L196.55 58.15 L197.38 57.93 L198.21 57.72 L199.04 57.50 L199.87 57.29 L200.70 57.09 L201.53 56.88 L202.36 56.68 L203.20 56.47 L204.03 56.27 L204.86 56.08 L205.69 55.88 L206.52 55.69 L207.35 55.49 L208.18 55.30 L209.02 55.11 L209.85 54.93 L210.68 54.74 L211.51 54.56 L212.34 54.38 L213.17 54.20 L214.00 54.02 L214.83 53.85 L215.67 53.67 L216.50 53.50 L217.33 53.33 L218.16 53.16 L218.99 52.99 L219.82 52.83 L220.65 52.67 L221.49 52.50 L222.32 52.35 L223.15 52.19 L223.98 52.03 L224.81 51.88 L225.64 51.73 L226.47 51.58 L227.30 51.43 L228.14 51.28 L228.97 51.14 L229.80 50.99 L230.63 50.85 L231.46 50.71 L232.29 50.57 L233.12 50.44 L233.95 50.30 L234.79 50.17 L235.62 50.03 L236.45 49.90 L237.28 49.77 L238.11 49.64 L238.94 49.52 L239.77 49.39 L240.61 49.26 L241.44 49.14 L242.27 49.02 L243.10 48.89 L243.93 48.77 L244.76 48.65 L245.59 48.53 L246.42 48.41 L247.26 48.29 L248.09 48.17 L248.92 48.06 L249.75 47.94 L250.58 47.82 L251.41 47.71 L252.24 47.60 L253.07 47.48 L253.91 47.37 L254.74 47.26 L255.57 47.15 L256.40 47.05 L257.23 46.94 L258.06 46.83 L258.89 46.72 L259.73 46.62 L260.56 46.51 L261.39 46.41 L262.22 46.31 L263.05 46.20 L263.88 46.10 L264.71 46.00 L265.54 45.89 L266.38 45.79 L267.21 45.69 L268.04 45.59 L268.87 45.49 L269.70 45.39 L270.53 45.28 L271.36 45.18 L272.20 45.08 L273.03 44.98 L273.86 44.88 L274.69 44.77 L275.52 44.67 L276.35 44.56 L277.18 44.46 L278.01 44.35 L278.85 44.25 L279.68 44.14 L280.51 44.04 L281.34 43.93 L282.17 43.83 L283.00 43.72 L283.83 43.62 L284.66 43.52 L285.50 43.42 L286.33 43.32 L287.16 43.23 L287.99 43.13 L288.82 43.04 L289.65 42.95 L290.48 42.86 L291.32 42.77 L292.15 42.69 L292.98 42.60 L293.81 42.52 L294.64 42.45 L295.47 42.37 L296.30 42.30 L297.13 42.23 L297.97 42.16 L298.80 42.10 L299.63 42.03 L300.46 41.96 L301.29 41.90 L302.12 41.84 L302.95 41.78 L303.79 41.72 L304.62 41.66 L305.45 41.60 L306.28 41.54 L307.11 41.48 L307.94 41.43 L308.77 41.37 L309.60 41.32 L310.44 41.26 L311.27 41.21 L312.10 41.15 L312.93 41.10 L313.76 41.04 L314.59 40.99 L315.42 40.94 L316.25 40.88 L317.09 40.83 L317.92 40.77 L318.75 40.72 L319.58 40.66 L320.41 40.61 L321.24 40.56 L322.07 40.50 L322.91 40.45 L323.74 40.40 L324.57 40.34 L325.40 40.29 L326.23 40.24 L327.06 40.19 L327.89 40.14 L328.72 40.08 L329.56 40.03 L330.39 39.98 L331.22 39.93 L332.05 39.88 L332.88 39.83 L333.71 39.78 L334.54 39.73 L335.38 39.68 L336.21 39.63 L337.04 39.58 L337.87 39.53 L338.70 39.48 L339.53 39.43 L340.36 39.38 L341.19 39.33 L342.03 39.28 L342.86 39.23 L343.69 39.18 L344.52 39.13 L345.35 39.08 L346.18 39.03 L347.01 38.98 L347.84 38.93 L348.68 38.88 L349.51 38.84 L350.34 38.79 L351.17 38.74 L352.00 38.69 L352.83 38.64 L353.66 38.60 L354.50 38.55 L355.33 38.50 L356.16 38.46 L356.99 38.41 L357.82 38.36 L358.65 38.32 L359.48 38.27 L360.31 38.22 L361.15 38.18 L361.98 38.13 L362.81 38.08 L363.64 38.04 L364.47 37.99 L365.30 37.95 L366.13 37.90 L366.97 37.86 L367.80 37.81 L368.63 37.76 L369.46 37.72 L370.29 37.67 L371.12 37.63 L371.95 37.58 L372.78 37.54 L373.62 37.50 L374.45 37.45 L375.28 37.41 L376.11 37.36 L376.94 37.32 L377.77 37.27 L378.60 37.23 L379.43 37.19 L380.27 37.14 L381.10 37.10 L381.93 37.05 L382.76 37.01 L383.59 36.97 L384.42 36.92 L385.25 36.88 L386.09 36.83 L386.92 36.79 L387.75 36.75 L388.58 36.70 L389.41 36.66 L390.24 36.62 L391.07 36.57 L391.90 36.53 L392.74 36.49 L393.57 36.44 L394.40 36.40 L395.23 36.36 L396.06 36.31 L396.89 36.27 L397.72 36.23 L398.56 36.18 L399.39 36.14 L400.22 36.10 L401.05 36.06 L401.88 36.01 L402.71 35.97 L403.54 35.93 L404.37 35.88 L405.21 35.84 L406.04 35.80 L406.87 35.76 L407.70 35.71 L408.53 35.67 L409.36 35.63 L410.19 35.59 L411.02 35.54" stroke="#800000" stroke-width="1.3" stroke-dasharray="2.6 1.3" fill="none"/>
<path d="M79.33 229.48 L80.16 226.60 L80.99 223.66 L81.82 220.68 L82.66 217.63 L83.49 214.54 L84.32 211.39 L85.15 208.18 L85.98 204.86 L86.81 201.46 L87.64 198.03 L88.47 194.59 L89.31 191.17 L90.14 187.82 L90.97 184.50 L91.80 181.18 L92.63 177.86 L93.46 174.58 L94.29 171.36 L95.12 168.24 L95.96 165.23 L96.79 162.30 L97.62 159.43 L98.45 156.62 L99.28 153.89 L100.11 151.25 L100.94 148.72 L101.78 146.30 L102.61 143.97 L103.44 141.71 L104.27 139.53 L105.10 137.43 L105.93 135.41 L106.76 133.47 L107.59 131.62 L108.43 129.85 L109.26 128.14 L110.09 126.50 L110.92 124.91 L111.75 123.38 L112.58 121.88 L113.41 120.42 L114.25 118.98 L115.08 117.56 L115.91 116.16 L116.74 114.78 L117.57 113.43 L118.40 112.10 L119.23 110.80 L120.06 109.53 L120.90 108.28 L121.73 107.06 L122.56 105.87 L123.39 104.71 L124.22 103.58 L125.05 102.48 L125.88 101.40 L126.72 100.34 L127.55 99.30 L128.38 98.28 L129.21 97.29 L130.04 96.31 L130.87 95.35 L131.70 94.42 L132.53 93.51 L133.37 92.61 L134.20 91.74 L135.03 90.89 L135.86 90.06 L136.69 89.26 L137.52 88.47 L138.35 87.69 L139.18 86.94 L140.02 86.20 L140.85 85.47 L141.68 84.76 L142.51 84.06 L143.34 83.38 L144.17 82.70 L145.00 82.04 L145.84 81.39 L146.67 80.74 L147.50 80.11 L148.33 79.48 L149.16 78.86 L149.99 78.25 L150.82 77.65 L151.65 77.05 L152.49 76.47 L153.32 75.89 L154.15 75.33 L154.98 74.78 L155.81 74.24 L156.64 73.71 L157.47 73.20 L158.31 72.70 L159.14 72.21 L159.97 71.73 L160.80 71.26 L161.63 70.80 L162.46 70.35 L163.29 69.91 L164.12 69.47 L164.96 69.05 L165.79 68.63 L166.62 68.22 L167.45 67.82 L168.28 67.43 L169.11 67.04 L169.94 66.66 L170.77 66.29 L171.61 65.93 L172.44 65.57 L173.27 65.22 L174.10 64.88 L174.93 64.54 L175.76 64.20 L176.59 63.88 L177.43 63.56 L178.26 63.25 L179.09 62.94 L179.92 62.64 L180.75 62.34 L181.58 62.05 L182.41 61.77 L183.24 61.48 L184.08 61.21 L184.91 60.93 L185.74 60.66 L186.57 60.38 L187.40 60.12 L188.23 59.85 L189.06 59.59 L189.89 59.33 L190.73 59.08 L191.56 58.82 L192.39 58.57 L193.22 58.33 L194.05 58.08 L194.88 57.84 L195.71 57.60 L196.55 57.37 L197.38 57.13 L198.21 56.90 L199.04 56.68 L199.87 56.45 L200.70 56.23 L201.53 56.01 L202.36 55.79 L203.20 55.58 L204.03 55.37 L204.86 55.16 L205.69 54.95 L206.52 54.75 L207.35 54.55 L208.18 54.35 L209.02 54.15 L209.85 53.95 L210.68 53.76 L211.51 53.57 L212.34 53.38 L213.17 53.19 L214.00 53.00 L214.83 52.82 L215.67 52.64 L216.50 52.46 L217.33 52.28 L218.16 52.10 L218.99 51.93 L219.82 51.76 L220.65 51.59 L221.49 51.42 L222.32 51.25 L223.15 51.09 L223.98 50.92 L224.81 50.76 L225.64 50.60 L226.47 50.45 L227.30 50.29 L228.14 50.14 L228.97 49.98 L229.80 49.83 L230.63 49.69 L231.46 49.54 L232.29 49.39 L233.12 49.25 L233.95 49.11 L234.79 48.97 L235.62 48.83 L236.45 48.69 L237.28 48.55 L238.11 48.42 L238.94 48.28 L239.77 48.15 L240.61 48.02 L241.44 47.88 L242.27 47.75 L243.10 47.63 L243.93 47.50 L244.76 47.37 L245.59 47.24 L246.42 47.12 L247.26 46.99 L248.09 46.87 L248.92 46.74 L249.75 46.62 L250.58 46.50 L251.41 46.38 L252.24 46.26 L253.07 46.14 L253.91 46.02 L254.74 45.91 L255.57 45.79 L256.40 45.68 L257.23 45.56 L258.06 45.45 L258.89 45.34 L259.73 45.23 L260.56 45.12 L261.39 45.01 L262.22 44.90 L263.05 44.79 L263.88 44.68 L264.71 44.57 L265.54 44.47 L266.38 44.36 L267.21 44.25 L268.04 44.14 L268.87 44.04 L269.70 43.93 L270.53 43.82 L271.36 43.72 L272.20 43.61 L273.03 43.50 L273.86 43.39 L274.69 43.28 L275.52 43.17 L276.35 43.06 L277.18 42.95 L278.01 42.84 L278.85 42.73 L279.68 42.62 L280.51 42.51 L281.34 42.40 L282.17 42.29 L283.00 42.18 L283.83 42.08 L284.66 41.97 L285.50 41.87 L286.33 41.76 L287.16 41.66 L287.99 41.56 L288.82 41.46 L289.65 41.36 L290.48 41.27 L291.32 41.17 L292.15 41.08 L292.98 41.00 L293.81 40.91 L294.64 40.83 L295.47 40.75 L296.30 40.67 L297.13 40.60 L297.97 40.52 L298.80 40.45 L299.63 40.38 L300.46 40.31 L301.29 40.24 L302.12 40.17 L302.95 40.11 L303.79 40.04 L304.62 39.98 L305.45 39.91 L306.28 39.85 L307.11 39.79 L307.94 39.73 L308.77 39.66 L309.60 39.60 L310.44 39.54 L311.27 39.49 L312.10 39.43 L312.93 39.37 L313.76 39.31 L314.59 39.25 L315.42 39.19 L316.25 39.13 L317.09 39.08 L317.92 39.02 L318.75 38.96 L319.58 38.90 L320.41 38.84 L321.24 38.79 L322.07 38.73 L322.91 38.67 L323.74 38.62 L324.57 38.56 L325.40 38.51 L326.23 38.45 L327.06 38.40 L327.89 38.34 L328.72 38.29 L329.56 38.24 L330.39 38.18 L331.22 38.13 L332.05 38.08 L332.88 38.03 L333.71 37.97 L334.54 37.92 L335.38 37.87 L336.21 37.82 L337.04 37.77 L337.87 37.72 L338.70 37.67 L339.53 37.62 L340.36 37.57 L341.19 37.52 L342.03 37.47 L342.86 37.42 L343.69 37.37 L344.52 37.32 L345.35 37.27 L346.18 37.22 L347.01 37.17 L347.84 37.12 L348.68 37.08 L349.51 37.03 L350.34 36.98 L351.17 36.93 L352.00 36.89 L352.83 36.84 L353.66 36.79 L354.50 36.75 L355.33 36.70 L356.16 36.65 L356.99 36.61 L357.82 36.56 L358.65 36.52 L359.48 36.47 L360.31 36.43 L361.15 36.38 L361.98 36.34 L362.81 36.29 L363.64 36.25 L364.47 36.20 L365.30 36.16 L366.13 36.11 L366.97 36.07 L367.80 36.03 L368.63 35.98 L369.46 35.94 L370.29 35.90 L371.12 35.85 L371.95 35.81 L372.78 35.77 L373.62 35.73 L374.45 35.68 L375.28 35.64 L376.11 35.60 L376.94 35.56 L377.77 35.52 L378.60 35.48 L379.43 35.43 L380.27 35.39 L381.10 35.35 L381.93 35.31 L382.76 35.27 L383.59 35.23 L384.42 35.19 L385.25 35.15 L386.09 35.11 L386.92 35.07 L387.75 35.03 L388.58 34.99 L389.41 34.95 L390.24 34.91 L391.07 34.87 L391.90 34.83 L392.74 34.79 L393.57 34.75 L394.40 34.71 L395.23 34.67 L396.06 34.63 L396.89 34.60 L397.72 34.56 L398.56 34.52 L399.39 34.48 L400.22 34.44 L401.05 34.40 L401.88 34.37 L402.71 34.33 L403.54 34.29 L404.37 34.25 L405.21 34.22 L406.04 34.18 L406.87 34.14 L407.70 34.10 L408.53 34.07 L409.36 34.03 L410.19 33.99 L411.02 33.96" stroke="#800000" stroke-width="2.4" fill="none"/>
<path d="M67.50 249.40 L68.13 247.81 L68.77 246.03 L69.40 244.06 L70.04 241.93 L70.67 239.65 L71.31 237.23 L71.94 234.58 L72.58 231.72 L73.21 228.64 L73.85 225.36 L74.48 221.89 L75.12 218.15 L75.75 213.98 L76.38 209.49 L77.02 204.79 L77.65 199.99 L78.29 195.21 L78.92 190.55 L79.56 186.01 L80.39 180.25 L81.22 173.34 L82.05 166.63 L82.88 160.03 L83.71 153.75 L84.54 148.14 L85.37 143.25 L86.20 138.75 L87.03 134.56 L87.86 130.56 L88.70 126.66 L89.53 122.73 L90.36 118.69 L91.19 114.54 L92.02 110.38 L92.85 106.23 L93.68 102.14 L94.51 98.16 L95.34 94.33 L96.17 90.67 L97.00 87.09 L97.83 83.55 L98.66 80.08 L99.50 76.70 L100.33 73.49 L101.16 70.48 L101.99 67.70 L102.82 65.05 L103.65 62.51 L104.48 60.07 L105.31 57.75 L106.14 55.56 L106.97 53.49 L107.80 51.56 L108.63 49.75 L109.46 48.03 L110.30 46.41 L111.13 44.95 L111.96 43.63 L112.79 42.51 L113.62 41.59 L114.45 40.81 L115.28 40.11 L116.11 39.48 L116.94 38.90 L117.77 38.38 L118.60 37.90 L119.43 37.46 L120.26 37.06 L121.09 36.68 L121.93 36.33 L122.76 36.01 L123.59 35.70 L124.42 35.41 L125.25 35.14 L126.08 34.88 L126.91 34.64 L127.74 34.41 L128.57 34.18 L129.40 33.97 L130.23 33.77 L131.06 33.57 L131.89 33.39 L132.73 33.21 L133.56 33.03 L134.39 32.87 L135.22 32.70 L136.05 32.54 L136.88 32.39 L137.71 32.25 L138.54 32.12 L139.37 32.00 L140.20 31.88 L141.03 31.77 L141.86 31.67 L142.69 31.57 L143.52 31.47 L144.36 31.38 L145.19 31.28 L146.02 31.19 L146.85 31.10 L147.68 31.01 L148.51 30.91 L149.34 30.81 L150.17 30.71 L151.00 30.61 L151.83 30.51 L152.66 30.42 L153.49 30.32 L154.32 30.23 L155.16 30.15 L155.99 30.06 L156.82 29.98 L157.65 29.90 L158.48 29.83 L159.31 29.76 L160.14 29.70 L160.97 29.63 L161.80 29.57 L162.63 29.51 L163.46 29.45 L164.29 29.39 L165.12 29.34 L165.96 29.28 L166.79 29.23 L167.62 29.18 L168.45 29.13 L169.28 29.08 L170.11 29.04 L170.94 28.99 L171.77 28.95 L172.60 28.92 L173.43 28.88 L174.26 28.85 L175.09 28.82 L175.92 28.79 L176.75 28.76 L177.59 28.74 L178.42 28.71 L179.25 28.68 L180.08 28.66 L180.91 28.64 L181.74 28.61 L182.57 28.59 L183.40 28.57 L184.23 28.55 L185.06 28.53 L185.89 28.50 L186.72 28.48 L187.55 28.45 L188.39 28.43 L189.22 28.40 L190.05 28.36 L190.88 28.33 L191.71 28.29 L192.54 28.26 L193.37 28.22 L194.20 28.19 L195.03 28.15 L195.86 28.12 L196.69 28.08 L197.52 28.05 L198.35 28.01 L199.18 27.98 L200.02 27.95 L200.85 27.91 L201.68 27.88 L202.51 27.85 L203.34 27.82 L204.17 27.79 L205.00 27.75 L205.83 27.72 L206.66 27.69 L207.49 27.65 L208.32 27.62 L209.15 27.58 L209.98 27.55 L210.82 27.51 L211.65 27.48 L212.48 27.44 L213.31 27.41 L214.14 27.37 L214.97 27.34 L215.80 27.31 L216.63 27.27 L217.46 27.24 L218.29 27.21 L219.12 27.18 L219.95 27.15 L220.78 27.12 L221.62 27.09 L222.45 27.06 L223.28 27.03 L224.11 27.00 L224.94 26.98 L225.77 26.95 L226.60 26.92 L227.43 26.90 L228.26 26.87 L229.09 26.85 L229.92 26.82 L230.75 26.80 L231.58 26.78 L232.41 26.75 L233.25 26.73 L234.08 26.70 L234.91 26.68 L235.74 26.65 L236.57 26.63 L237.40 26.61 L238.23 26.58 L239.06 26.56 L239.89 26.53 L240.72 26.51 L241.55 26.49 L242.38 26.46 L243.21 26.44 L244.05 26.42 L244.88 26.40 L245.71 26.38 L246.54 26.36 L247.37 26.33 L248.20 26.31 L249.03 26.29 L249.86 26.27 L250.69 26.25 L251.52 26.24 L252.35 26.22 L253.18 26.20 L254.01 26.18 L254.84 26.16 L255.68 26.14 L256.51 26.13 L257.34 26.11 L258.17 26.09 L259.00 26.08 L259.83 26.06 L260.66 26.04 L261.49 26.03 L262.32 26.01 L263.15 26.00 L263.98 25.98 L264.81 25.97 L265.64 25.95 L266.48 25.94 L267.31 25.92 L268.14 25.90 L268.97 25.89 L269.80 25.87 L270.63 25.86 L271.46 25.84 L272.29 25.83 L273.12 25.81 L273.95 25.80 L274.78 25.78 L275.61 25.77 L276.44 25.75 L277.27 25.74 L278.11 25.72 L278.94 25.71 L279.77 25.69 L280.60 25.68 L281.43 25.67 L282.26 25.65 L283.09 25.64 L283.92 25.62 L284.75 25.61 L285.58 25.59 L286.41 25.58 L287.24 25.57 L288.07 25.55 L288.91 25.54 L289.74 25.53 L290.57 25.51 L291.40 25.50 L292.23 25.49 L293.06 25.47 L293.89 25.46 L294.72 25.45 L295.55 25.44 L296.38 25.43 L297.21 25.41 L298.04 25.40 L298.87 25.39 L299.71 25.38 L300.54 25.37 L301.37 25.35 L302.20 25.34 L303.03 25.33 L303.86 25.32 L304.69 25.31 L305.52 25.30 L306.35 25.29 L307.18 25.28 L308.01 25.27 L308.84 25.26 L309.67 25.25 L310.50 25.24 L311.34 25.23 L312.17 25.22 L313.00 25.21 L313.83 25.20 L314.66 25.19 L315.49 25.18 L316.32 25.17 L317.15 25.16 L317.98 25.15 L318.81 25.14 L319.64 25.13 L320.47 25.12 L321.30 25.11 L322.14 25.10 L322.97 25.09 L323.80 25.09 L324.63 25.08 L325.46 25.07 L326.29 25.06 L327.12 25.05 L327.95 25.04 L328.78 25.03 L329.61 25.03 L330.44 25.02 L331.27 25.01 L332.10 25.00 L332.93 24.99 L333.77 24.99 L334.60 24.98 L335.43 24.97 L336.26 24.96 L337.09 24.96 L337.92 24.95 L338.75 24.94 L339.58 24.93 L340.41 24.93 L341.24 24.92 L342.07 24.91 L342.90 24.90 L343.73 24.90 L344.57 24.89 L345.40 24.88 L346.23 24.88 L347.06 24.87 L347.89 24.86 L348.72 24.86 L349.55 24.85 L350.38 24.84 L351.21 24.84 L352.04 24.83 L352.87 24.83 L353.70 24.82 L354.53 24.81 L355.37 24.81 L356.20 24.80 L357.03 24.79 L357.86 24.79 L358.69 24.78 L359.52 24.77 L360.35 24.77 L361.18 24.76 L362.01 24.75 L362.84 24.75 L363.67 24.74 L364.50 24.73 L365.33 24.73 L366.16 24.72 L367.00 24.71 L367.83 24.71 L368.66 24.70 L369.49 24.69 L370.32 24.68 L371.15 24.68 L371.98 24.67 L372.81 24.66 L373.64 24.66 L374.47 24.65 L375.30 24.64 L376.13 24.64 L376.96 24.63 L377.80 24.62 L378.63 24.61 L379.46 24.61 L380.29 24.60 L381.12 24.59 L381.95 24.58 L382.78 24.57 L383.61 24.56 L384.44 24.56 L385.27 24.55 L386.10 24.54 L386.93 24.53 L387.76 24.52 L388.59 24.51 L389.43 24.50 L390.26 24.49 L391.09 24.48 L391.92 24.47 L392.75 24.46 L393.58 24.45 L394.41 24.44 L395.24 24.42 L396.07 24.41 L396.90 24.40 L397.73 24.39 L398.56 24.38 L399.39 24.37 L400.23 24.35 L401.06 24.34 L401.89 24.33 L402.72 24.31 L403.55 24.30 L404.38 24.29 L405.21 24.27 L406.04 24.26 L406.87 24.25 L407.70 24.23 L408.53 24.22 L409.36 24.21 L410.19 24.19 L411.02 24.18" stroke="#ff8000" stroke-width="1.3" stroke-dasharray="2.6 1.3" fill="none"/>
<path d="M79.56 186.01 L80.39 180.25 L81.22 173.34 L82.05 166.63 L82.88 160.03 L83.71 153.75 L84.54 148.14 L85.37 143.25 L86.20 138.75 L87.03 134.56 L87.86 130.56 L88.70 126.66 L89.53 122.73 L90.36 118.69 L91.19 114.54 L92.02 110.38 L92.85 106.23 L93.68 102.14 L94.51 98.16 L95.34 94.33 L96.17 90.67 L97.00 87.09 L97.83 83.57 L98.66 80.16 L99.50 76.87 L100.33 73.77 L101.16 70.87 L101.99 68.21 L102.82 65.68 L103.65 63.28 L104.48 61.01 L105.31 58.86 L106.14 56.85 L106.97 54.97 L107.80 53.23 L108.63 51.61 L109.46 50.12 L110.30 48.77 L111.13 47.56 L111.96 46.45 L112.79 45.44 L113.62 44.55 L114.45 43.78 L115.28 43.10 L116.11 42.48 L116.94 41.91 L117.77 41.40 L118.60 40.93 L119.43 40.50 L120.26 40.10 L121.09 39.73 L121.93 39.39 L122.76 39.06 L123.59 38.76 L124.42 38.47 L125.25 38.20 L126.08 37.93 L126.91 37.68 L127.74 37.43 L128.57 37.20 L129.40 36.97 L130.23 36.75 L131.06 36.53 L131.89 36.33 L132.73 36.12 L133.56 35.93 L134.39 35.74 L135.22 35.55 L136.05 35.36 L136.88 35.18 L137.71 35.01 L138.54 34.84 L139.37 34.68 L140.20 34.51 L141.03 34.36 L141.86 34.20 L142.69 34.05 L143.52 33.91 L144.36 33.76 L145.19 33.62 L146.02 33.48 L146.85 33.35 L147.68 33.21 L148.51 33.08 L149.34 32.95 L150.17 32.81 L151.00 32.69 L151.83 32.56 L152.66 32.44 L153.49 32.32 L154.32 32.20 L155.16 32.08 L155.99 31.97 L156.82 31.87 L157.65 31.77 L158.48 31.67 L159.31 31.58 L160.14 31.49 L160.97 31.41 L161.80 31.32 L162.63 31.24 L163.46 31.16 L164.29 31.09 L165.12 31.01 L165.96 30.94 L166.79 30.87 L167.62 30.81 L168.45 30.74 L169.28 30.67 L170.11 30.61 L170.94 30.55 L171.77 30.49 L172.60 30.44 L173.43 30.39 L174.26 30.33 L175.09 30.28 L175.92 30.23 L176.75 30.18 L177.59 30.13 L178.42 30.08 L179.25 30.03 L180.08 29.98 L180.91 29.93 L181.74 29.87 L182.57 29.82 L183.40 29.76 L184.23 29.70 L185.06 29.64 L185.89 29.58 L186.72 29.52 L187.55 29.46 L188.39 29.40 L189.22 29.34 L190.05 29.28 L190.88 29.22 L191.71 29.16 L192.54 29.10 L193.37 29.04 L194.20 28.97 L195.03 28.91 L195.86 28.85 L196.69 28.80 L197.52 28.74 L198.35 28.68 L199.18 28.62 L200.02 28.57 L200.85 28.51 L201.68 28.46 L202.51 28.41 L203.34 28.36 L204.17 28.31 L205.00 28.26 L205.83 28.21 L206.66 28.17 L207.49 28.12 L208.32 28.07 L209.15 28.03 L209.98 27.98 L210.82 27.94 L211.65 27.89 L212.48 27.85 L213.31 27.80 L214.14 27.76 L214.97 27.72 L215.80 27.67 L216.63 27.63 L217.46 27.59 L218.29 27.55 L219.12 27.51 L219.95 27.47 L220.78 27.44 L221.62 27.40 L222.45 27.36 L223.28 27.33 L224.11 27.29 L224.94 27.26 L225.77 27.23 L226.60 27.19 L227.43 27.16 L228.26 27.13 L229.09 27.10 L229.92 27.07 L230.75 27.05 L231.58 27.02 L232.41 26.99 L233.25 26.96 L234.08 26.93 L234.91 26.91 L235.74 26.88 L236.57 26.86 L237.40 26.83 L238.23 26.81 L239.06 26.78 L239.89 26.76 L240.72 26.74 L241.55 26.71 L242.38 26.69 L243.21 26.67 L244.05 26.65 L244.88 26.62 L245.71 26.60 L246.54 26.58 L247.37 26.56 L248.20 26.54 L249.03 26.52 L249.86 26.50 L250.69 26.48 L251.52 26.46 L252.35 26.44 L253.18 26.42 L254.01 26.41 L254.84 26.39 L255.68 26.37 L256.51 26.35 L257.34 26.34 L258.17 26.32 L259.00 26.30 L259.83 26.29 L260.66 26.27 L261.49 26.26 L262.32 26.24 L263.15 26.22 L263.98 26.21 L264.81 26.19 L265.64 26.18 L266.48 26.16 L267.31 26.15 L268.14 26.13 L268.97 26.12 L269.80 26.10 L270.63 26.09 L271.46 26.07 L272.29 26.06 L273.12 26.04 L273.95 26.03 L274.78 26.01 L275.61 26.00 L276.44 25.98 L277.27 25.97 L278.11 25.95 L278.94 25.94 L279.77 25.92 L280.60 25.91 L281.43 25.89 L282.26 25.88 L283.09 25.86 L283.92 25.85 L284.75 25.83 L285.58 25.82 L286.41 25.81 L287.24 25.79 L288.07 25.78 L288.91 25.77 L289.74 25.75 L290.57 25.74 L291.40 25.73 L292.23 25.71 L293.06 25.70 L293.89 25.69 L294.72 25.68 L295.55 25.66 L296.38 25.65 L297.21 25.64 L298.04 25.63 L298.87 25.62 L299.71 25.60 L300.54 25.59 L301.37 25.58 L302.20 25.57 L303.03 25.56 L303.86 25.55 L304.69 25.54 L305.52 25.53 L306.35 25.51 L307.18 25.50 L308.01 25.49 L308.84 25.48 L309.67 25.47 L310.50 25.46 L311.34 25.45 L312.17 25.44 L313.00 25.43 L313.83 25.42 L314.66 25.41 L315.49 25.40 L316.32 25.39 L317.15 25.38 L317.98 25.37 L318.81 25.37 L319.64 25.36 L320.47 25.35 L321.30 25.34 L322.14 25.33 L322.97 25.32 L323.80 25.31 L324.63 25.30 L325.46 25.29 L326.29 25.29 L327.12 25.28 L327.95 25.27 L328.78 25.26 L329.61 25.25 L330.44 25.24 L331.27 25.24 L332.10 25.23 L332.93 25.22 L333.77 25.21 L334.60 25.20 L335.43 25.20 L336.26 25.19 L337.09 25.18 L337.92 25.17 L338.75 25.17 L339.58 25.16 L340.41 25.15 L341.24 25.14 L342.07 25.14 L342.90 25.13 L343.73 25.12 L344.57 25.12 L345.40 25.11 L346.23 25.10 L347.06 25.10 L347.89 25.09 L348.72 25.08 L349.55 25.08 L350.38 25.07 L351.21 25.06 L352.04 25.06 L352.87 25.05 L353.70 25.05 L354.53 25.04 L355.37 25.03 L356.20 25.03 L357.03 25.02 L357.86 25.01 L358.69 25.01 L359.52 25.00 L360.35 24.99 L361.18 24.99 L362.01 24.98 L362.84 24.97 L363.67 24.97 L364.50 24.96 L365.33 24.95 L366.16 24.95 L367.00 24.94 L367.83 24.93 L368.66 24.92 L369.49 24.92 L370.32 24.91 L371.15 24.90 L371.98 24.90 L372.81 24.89 L373.64 24.88 L374.47 24.88 L375.30 24.87 L376.13 24.86 L376.96 24.85 L377.80 24.85 L378.63 24.84 L379.46 24.83 L380.29 24.82 L381.12 24.82 L381.95 24.81 L382.78 24.80 L383.61 24.79 L384.44 24.78 L385.27 24.77 L386.10 24.76 L386.93 24.76 L387.76 24.75 L388.59 24.74 L389.43 24.73 L390.26 24.72 L391.09 24.71 L391.92 24.70 L392.75 24.68 L393.58 24.67 L394.41 24.66 L395.24 24.65 L396.07 24.64 L396.90 24.63 L397.73 24.62 L398.56 24.60 L399.39 24.59 L400.23 24.58 L401.06 24.57 L401.89 24.55 L402.72 24.54 L403.55 24.53 L404.38 24.51 L405.21 24.50 L406.04 24.49 L406.87 24.47 L407.70 24.46 L408.53 24.45 L409.36 24.43 L410.19 24.42 L411.02 24.40" stroke="#ff8000" stroke-width="2.4" fill="none"/>
</g>
<text x="67.50" y="266.0" text-anchor="middle" class="tl">0</text>
<text x="113.00" y="266.0" text-anchor="middle" class="tl">2</text>
<text x="158.50" y="266.0" text-anchor="middle" class="tl">4</text>
<text x="204.00" y="266.0" text-anchor="middle" class="tl">6</text>
<text x="249.50" y="266.0" text-anchor="middle" class="tl">8</text>
<text x="295.00" y="266.0" text-anchor="middle" class="tl">10</text>
<text x="340.50" y="266.0" text-anchor="middle" class="tl">12</text>
<text x="386.00" y="266.0" text-anchor="middle" class="tl">14</text>
<text x="62" y="254.20" text-anchor="end" class="tl">0.0</text>
<text x="62" y="208.92" text-anchor="end" class="tl">0.2</text>
<text x="62" y="163.64" text-anchor="end" class="tl">0.4</text>
<text x="62" y="118.36" text-anchor="end" class="tl">0.6</text>
<text x="62" y="73.08" text-anchor="end" class="tl">0.8</text>
<text x="62" y="27.80" text-anchor="end" class="tl">1.0</text>
<text x="136.4" y="18.8" class="lb" style="letter-spacing:0" textLength="100" fill="#000" stroke="#000" stroke-width="0.2">non-interacting gas</text>
<text x="130.6" y="55" class="lb" fill="#ff8000" stroke="#ff8000" stroke-width="0.2"><tspan style="letter-spacing:-0.35px">1/k</tspan><tspan class="sub" dy="4.5" dx="-0.4">F</tspan><tspan dy="-4.5" dx="0.1">a=-1</tspan></text>
<text x="173.5" y="80.2" class="lb" fill="#800000" stroke="#800000" stroke-width="0.2"><tspan style="letter-spacing:-0.35px">1/k</tspan><tspan class="sub" dy="4.5" dx="-0.4">F</tspan><tspan dy="-4.5" dx="0.1">a=0</tspan></text>
<text x="214.5" y="124.3" class="lb" fill="#00ff00" stroke="#00ff00" stroke-width="0.2"><tspan style="letter-spacing:-0.35px">1/k</tspan><tspan class="sub" dy="4.5" dx="-0.4">F</tspan><tspan dy="-4.5" dx="0.1">a=1</tspan></text>
<text x="247.3" y="161.3" class="lb" fill="#0000ff" stroke="#0000ff" stroke-width="0.2"><tspan style="letter-spacing:-0.35px">1/k</tspan><tspan class="sub" dy="4.5" dx="-0.4">F</tspan><tspan dy="-4.5" dx="0.1">a=2</tspan></text>
<text x="279.7" y="200.5" class="lb" fill="#ff0000" stroke="#ff0000" stroke-width="0.2"><tspan style="letter-spacing:-0.35px">1/k</tspan><tspan class="sub" dy="4.5" dx="-0.4">F</tspan><tspan dy="-4.5" dx="0.1">a=4</tspan></text>
<text x="224.2" y="290.7" class="ax">k/k<tspan class="asub" dy="6" dx="-0.4">F</tspan></text>
<text transform="translate(31.2,155.0) rotate(-90)" class="ax" style="letter-spacing:-0.3px">S<tspan dy="5.9" style="font-size:10.2px">M</tspan><tspan dy="-5.9">(k)</tspan></text>
</svg>
</body></html>
